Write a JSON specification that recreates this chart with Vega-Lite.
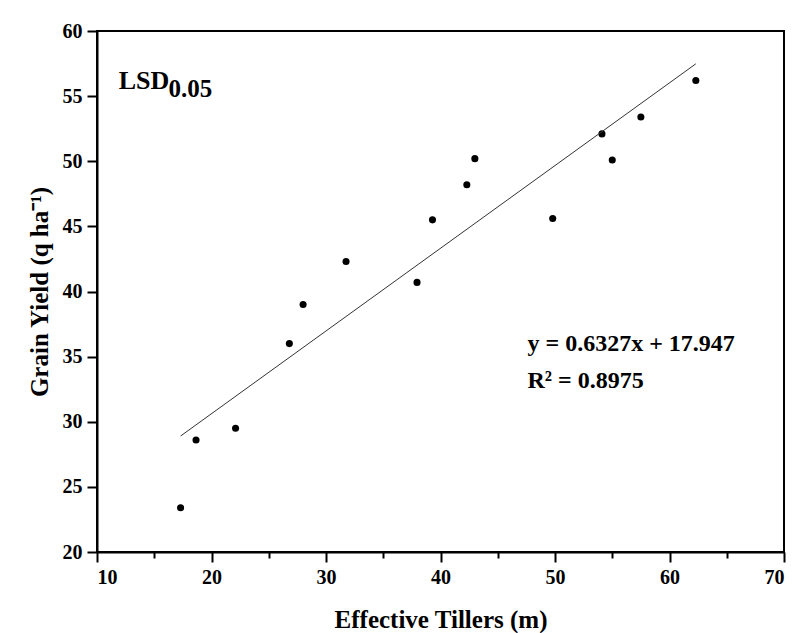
{
  "$schema": "https://vega.github.io/schema/vega-lite/v6.json",
  "width": 687,
  "height": 521,
  "autosize": "none",
  "padding": {"left": 97, "top": 31, "right": 8, "bottom": 81},
  "background": "white",
  "config": {
    "font": "Liberation Serif",
    "view": {"stroke": "black", "strokeWidth": 2},
    "axis": {
      "grid": false,
      "domainColor": "black",
      "domainWidth": 2,
      "tickColor": "black",
      "tickWidth": 2,
      "labelFont": "Liberation Serif",
      "labelFontWeight": "bold",
      "labelFontSize": 20,
      "labelColor": "black",
      "titleFont": "Liberation Serif",
      "titleFontWeight": "bold",
      "titleFontSize": 25,
      "titleColor": "black"
    }
  },
  "datasets": {
    "pts": [
      {"tillers": 17.3, "yield": 23.4},
      {"tillers": 18.65, "yield": 28.6},
      {"tillers": 22.1, "yield": 29.5},
      {"tillers": 26.8, "yield": 36.0},
      {"tillers": 28.0, "yield": 39.0},
      {"tillers": 31.75, "yield": 42.3},
      {"tillers": 37.95, "yield": 40.7},
      {"tillers": 39.3, "yield": 45.5},
      {"tillers": 42.3, "yield": 48.2},
      {"tillers": 43.0, "yield": 50.2},
      {"tillers": 49.8, "yield": 45.6},
      {"tillers": 54.1, "yield": 52.1},
      {"tillers": 55.0, "yield": 50.1},
      {"tillers": 57.5, "yield": 53.4},
      {"tillers": 62.3, "yield": 56.2}
    ],
    "labels": [
      {"tillers": 11.9, "yield": 55.55, "text": "LSD", "kind": "big"},
      {"tillers": 16.25, "yield": 54.9, "text": "0.05", "kind": "sub"},
      {"tillers": 47.6, "yield": 35.4, "text": "y = 0.6327x + 17.947", "kind": "eq"},
      {"tillers": 47.6, "yield": 32.6, "text": "R² = 0.8975", "kind": "eq"}
    ]
  },
  "layer": [
    {
      "data": {"name": "pts"},
      "mark": {"type": "point", "filled": true, "color": "black", "size": 50, "opacity": 1},
      "encoding": {
        "x": {
          "field": "tillers", "type": "quantitative",
          "scale": {"domain": [10, 70], "nice": false, "zero": false},
          "axis": {
            "title": "Effective Tillers (m)",
            "values": [10, 15, 20, 25, 30, 35, 40, 45, 50, 55, 60, 65, 70],
            "labelExpr": "datum.value % 10 === 0 ? datum.label : ''",
            "tickSize": {"condition": {"test": "datum.value % 10 === 0", "value": 10}, "value": 6},
            "labelPadding": 5,
            "titlePadding": 20
          }
        },
        "y": {
          "field": "yield", "type": "quantitative",
          "scale": {"domain": [20, 60], "nice": false, "zero": false},
          "axis": {
            "title": "Grain Yield (q ha⁻¹)",
            "values": [20, 22.5, 25, 27.5, 30, 32.5, 35, 37.5, 40, 42.5, 45, 47.5, 50, 52.5, 55, 57.5, 60],
            "labelExpr": "datum.value % 5 === 0 ? datum.label : ''",
            "tickSize": {"condition": {"test": "datum.value % 5 === 0", "value": 10}, "value": 6},
            "labelPadding": 5,
            "titlePadding": 10
          }
        }
      }
    },
    {
      "data": {"name": "pts"},
      "transform": [{"regression": "yield", "on": "tillers"}],
      "mark": {"type": "line", "color": "#333333", "strokeWidth": 1},
      "encoding": {
        "x": {"field": "tillers", "type": "quantitative"},
        "y": {"field": "yield", "type": "quantitative"}
      }
    },
    {
      "data": {"name": "labels"},
      "mark": {"type": "text", "align": "left", "baseline": "alphabetic", "fontWeight": "bold", "font": "Liberation Serif", "color": "black"},
      "encoding": {
        "x": {"field": "tillers", "type": "quantitative"},
        "y": {"field": "yield", "type": "quantitative"},
        "text": {"field": "text"},
        "size": {
          "field": "kind", "type": "nominal",
          "scale": {"domain": ["big", "sub", "eq"], "range": [26, 24, 24]},
          "legend": null
        }
      }
    }
  ]
}
